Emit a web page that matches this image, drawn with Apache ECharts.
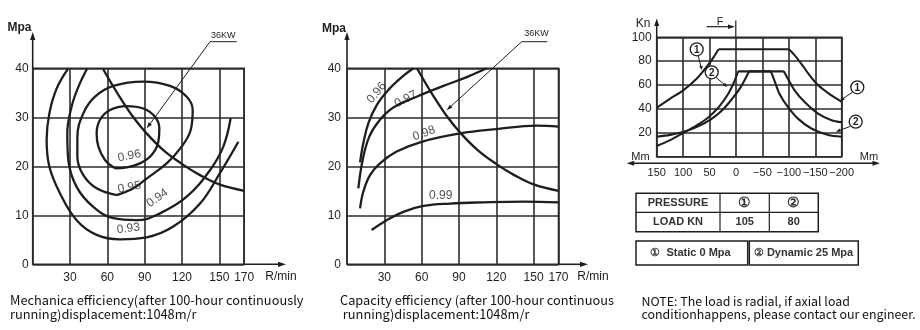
<!DOCTYPE html>
<html><head><meta charset="utf-8">
<script src="https://cdn.jsdelivr.net/npm/echarts@6/dist/echarts.min.js"></script>
<style>html,body{margin:0;padding:0;background:#fff}#c{width:920px;height:330px}</style>
</head><body><div id="c"></div><script>
// ---------- data ----------
// Chart 1: mechanical efficiency contours [R/min, Mpa]
const mech096 = [[66.2,19.6],[58.1,21.3],[52.8,24.0],[51.4,26.7],[54.1,29.5],[62.1,31.5],[75.5,32.3],[88.9,31.8],[98.3,30.1],[101.8,27.7],[101,25.0],[95.6,22.3],[86.2,20.6],[75.5,19.8],[66.2,19.6]];
const mech095 = [[67.5,14.1],[51.4,15.5],[40.7,18.2],[35.9,21.9],[35.9,26.0],[40.7,30.8],[50.1,34.2],[64.8,36.4],[88.9,37.3],[110.4,36.4],[123.8,34.2],[128.6,31.5],[127,27.4],[119.7,24.0],[107.7,20.6],[91.6,17.5],[80.9,15.5],[67.5,14.1]];
const mech094 = [[43.9,40],[36.7,36.2],[31.3,32.2],[27.8,26.7],[28.6,21.3],[35.3,15.8],[48.7,11.7],[64.8,9.4],[83.6,9.0],[102.3,10.4],[123.8,13.8],[142.5,19.2],[153.2,24.0],[159.1,29.8]];
const mech093 = [[28.6,40],[19.3,35.9],[13.4,30.8],[11.2,25.4],[13.4,19.9],[21.9,14.5],[35.3,9.0],[51.4,6.0],[70.2,5.1],[91.6,5.5],[113,7.7],[134.5,12.4],[150.5,18.6],[165.3,25.0]];
const mechLabelText = ['0.96','0.95','0.94','0.93'];
const mechLabelPos = [[77.7,22.1],[77.7,15.7],[100.2,13.5],[76.9,7.3]];
// 36 KW constant power curve (both charts)
const power36 = [[56.2,40],[68.8,34.6],[80.9,30],[91.6,26.7],[105,23.3],[119.8,20.5],[134.5,18.2],[150,16.3],[170,15]];
// Chart 2: capacity efficiency curves
const cap096 = [[10.5,20.8],[13.1,24.7],[17.2,28.8],[23.9,32.5],[33.3,35.6],[44.0,38.2],[53.4,40]];
const cap097 = [[9.1,15.5],[12.6,21.3],[18.0,26.1],[26.5,29.5],[37.3,32.0],[56.0,34.2],[77.5,36.4],[96.2,38.2],[112.3,40]];
const cap098 = [[10.5,11.4],[13.1,14.8],[18.5,18.2],[26.5,20.6],[39.9,23.0],[60.0,25.0],[90.8,26.7],[120.3,27.6],[152.5,28.3],[170,28.1]];
const cap099 = [[19.8,7.0],[31.9,9.0],[45.3,10.7],[61.4,11.9],[82.8,12.4],[109.6,12.65],[141.8,12.8],[170,12.65]];
const capLabelText = ['0.96','0.97','0.98','0.99'];
const capLabelPos = [[23.8,35.0],[47.2,33.7],[61.9,26.7],[75.3,14.1]];
// Chart 3: bearing load curves [Mm, Kn]
const load1 = [[150,41],[125,48.5],[100,55.5],[75,65],[50,78.5],[40,85],[33,90],[-100,90],[-110,85.5],[-125,77],[-137,69.5],[-155,60],[-180,51.5],[-200,46]];
const loadA = [[150,8.9],[124.6,13.9],[99.1,20],[73.7,26.4],[51.4,33.3],[32.3,41.7],[16.4,51.4],[3.7,62.5],[-3.9,71.5],[-90.5,71.5],[-98.1,65.3],[-110.8,55.6],[-129.9,45.8],[-155.3,36.1],[-180.8,30.6],[-200,28.8]];
const loadB = [[150,16.7],[124.6,18.3],[99.1,20.8],[73.7,25],[48.2,31.1],[26,38.9],[7.1,48.6],[-9,58.3],[-25,71.5],[-66,71.5],[-72.6,63.9],[-82.2,52.8],[-98.1,41.7],[-117.2,31.9],[-142.6,23.6],[-174.4,18.1],[-200,16.7]];
const tableHead = ['PRESSURE','\u2460','\u2461'];
const tableLoad = ['LOAD KN','105','80'];

// ---------- chart ----------
const INK = '#1e1e1e', GRIDC = '#2c2c2c';
const FONT = '"Liberation Sans", Arial, sans-serif';
const CJK = '"Noto Sans CJK SC", "Noto Sans", sans-serif';
const chart = echarts.init(document.getElementById('c'));

function curve(data, gi, w, sm) {
  return {type:'line', xAxisIndex:gi, yAxisIndex:gi, data:data, symbol:'none', showSymbol:false,
    smooth: sm == null ? 0.4 : sm, silent:true, z:3,
    lineStyle:{color:INK, width:w||2.3}};
}
function splitPlateau(d) {
  const segs = []; let cur = [d[0]];
  for (let i = 1; i < d.length; i++) {
    if (d[i][1] === d[i-1][1]) { segs.push(cur); segs.push([d[i-1], d[i]]); cur = [d[i]]; }
    else cur.push(d[i]);
  }
  segs.push(cur);
  return segs.filter(s => s.length > 1);
}
function labelSeries(gi, pos, text, rot) {
  return {type:'scatter', xAxisIndex:gi, yAxisIndex:gi, symbolSize:1, silent:true, z:4,
    itemStyle:{color:'rgba(0,0,0,0)'},
    data: pos.map((p,i)=>({name:text[i], value:p, label:{rotate:rot[i]}})),
    label:{show:true, position:'inside', formatter:'{b}', color:INK, fontSize:12, fontFamily:FONT}};
}

const series = [];
[mech093, mech094, mech095, mech096, power36].forEach(d => series.push(curve(d, 0)));
series.push(labelSeries(0, mechLabelPos, mechLabelText, [11, 11, 35, 7]));
[cap096, cap097, cap098, cap099, power36].forEach(d => series.push(curve(d, 1)));
series.push(labelSeries(1, capLabelPos, capLabelText, [50, 27, 20, 0]));
[load1, loadA, loadB].forEach(d => splitPlateau(d).forEach(s => series.push(curve(s, 2, 2.1, 0.3))));

function xAx(gi, o) {
  return Object.assign({gridIndex:gi, type:'value', axisLine:{show:false}, axisTick:{show:false},
    splitLine:{show:true, lineStyle:{color:GRIDC, width:1.6}},
    axisLabel:{color:INK, fontSize:12, fontFamily:FONT, margin:7}}, o);
}
const gridStyle = {show:true, borderColor:GRIDC, borderWidth:1.6, containLabel:false};

// ---------- decorations ----------
const G = [];
function gLine(x1,y1,x2,y2,w){G.push({type:'line',silent:true,z:10,shape:{x1:x1,y1:y1,x2:x2,y2:y2},style:{stroke:INK,lineWidth:w||1.5}});}
function gArrow(tx,ty,fx,fy,len,hw){
  const dx=tx-fx, dy=ty-fy, L=Math.hypot(dx,dy), ux=dx/L, uy=dy/L, bx=tx-ux*len, by=ty-uy*len;
  G.push({type:'polygon',silent:true,z:10,shape:{points:[[tx,ty],[bx-uy*hw,by+ux*hw],[bx+uy*hw,by-ux*hw]]},style:{fill:INK}});
}
function gText(x,y,text,o){
  const st = Object.assign({text:text, fill:INK, fontSize:12, fontFamily:FONT, fontWeight:'normal',
    align:'center', textAlign:'center', verticalAlign:'middle', textVerticalAlign:'middle'}, o||{});
  if (o && o.align) st.textAlign = o.align;
  G.push({type:'text',silent:true,z:11,x:x,y:y,style:st});
}
function gCircle(cx,cy,r,num){
  G.push({type:'circle',silent:true,z:11,shape:{cx:cx,cy:cy,r:r},style:{fill:'#fff',stroke:INK,lineWidth:1.3}});
  gText(cx,cy+0.5,num,{fontSize:10,fontWeight:'bold'});
}
function gRect(x,y,w,h,lw){G.push({type:'rect',silent:true,z:10,shape:{x:x,y:y,width:w,height:h},style:{fill:'none',stroke:INK,lineWidth:lw||1.5}});}

// chart 1 axes extensions
gLine(32.7,68.3,32.7,38,1.6); gArrow(32.7,32,32.7,40,8,2.6);
gLine(244,264.3,279,264.3,1.6); gArrow(286,264.3,276,264.3,8,2.6);
gText(19.5,28,'Mpa',{fontWeight:'bold'});
gText(281,277,'R/min');
gText(223.3,35.5,'36KW',{fontSize:9});
gLine(210,41.7,236.7,41.7,1); gLine(210,41.7,148.5,126,1); gArrow(146.7,128.3,150,123.8,6,2);
// chart 2
gLine(347,68.3,347,38,1.6); gArrow(347,32,347,40,8,2.6);
gLine(558,264.3,580,264.3,1.6); gArrow(588,264.3,578,264.3,8,2.6);
gText(334,29,'Mpa',{fontWeight:'bold'});
gText(593,277,'R/min');
gText(536.5,34,'36KW',{fontSize:9});
gLine(521.7,41.7,547.3,41.7,1); gLine(521.7,41.7,448.5,108.5,1); gArrow(446.7,110.2,450.5,106.7,6,2);
// chart 3
gLine(656.7,37.3,656.7,24,1.5); gArrow(656.7,18.5,656.7,26,7.5,2.5);
gText(643,24,'Kn',{fontSize:12});
gLine(633,163.3,874,163.3,1.5); gArrow(626.7,163.3,634,163.3,7.5,2.5); gArrow(880,163.3,872,163.3,7.5,2.5);
gText(640.5,156.5,'Mm',{fontSize:11}); gText(869,156.5,'Mm',{fontSize:11});
gLine(735.8,20.5,735.8,37.3,1.2);
gLine(706.7,26.7,729,26.7,1.2); gArrow(735,26.7,728,26.7,7,2.3);
gText(720,21.5,'F',{fontSize:11});
gCircle(696.7,49.3,6.5,'1'); gLine(698.3,56,701,67,1); gArrow(701.7,70,701,66,4,1.8);
gCircle(711.7,72.3,6.5,'2'); gLine(716,77.5,725,85,1); gArrow(727.5,87,724,84,4.5,1.8);
gCircle(857.3,87.3,6.5,'1'); gLine(852.3,92.3,843,98.7,1); gArrow(840,100.7,843.5,98.3,4.5,1.8);
gCircle(855.7,121.7,6.5,'2'); gLine(850,126.5,839,130.5,1); gArrow(836,131.7,840,130.2,4.5,1.8);
// table 1
gRect(636,193.3,182.3,38.4,1.5); gLine(636,212.3,818.3,212.3,1.2); gLine(720,193.3,720,231.7,1.2); gLine(769.3,193.3,769.3,231.7,1.2);
const colX = [678,744.7,793.7];
tableHead.forEach((t,i)=>gText(colX[i],203,t,{fontSize:i? 14:11,fontWeight:'bold',fill:'#333'}));
tableLoad.forEach((t,i)=>gText(colX[i],222.3,t,{fontSize:11,fontWeight:'bold',fill:'#333'}));
// table 2
gRect(636,241,111.7,24,1.5); gRect(749.3,241,109,24,1.5);
gText(690.5,253,'\u2460  Static 0 Mpa',{fontSize:11,fontWeight:'bold',fill:'#333'});
gText(803.5,253,'\u2461 Dynamic 25 Mpa',{fontSize:11,fontWeight:'bold',fill:'#333'});
// captions
const cap = {align:'left', fontFamily:CJK, fontSize:12.8, fill:'#111'};
const note = {align:'left', fontFamily:CJK, fontSize:12.4, fill:'#111'};
gText(10,300,'Mechanica efficiency(after 100-hour continuously',cap);
gText(10,313.7,'running)displacement:1048m/r',cap);
gText(340,300,'Capacity efficiency (after 100-hour continuous',cap);
gText(340,313.7,' running)displacement:1048m/r',cap);
gText(641.5,301,'NOTE: The load is radial, if axial load',note);
gText(641.5,314,'conditionhappens, please contact our engineer.',note);

chart.setOption({
  animation:false,
  backgroundColor:'#fff',
  grid:[
    Object.assign({left:32.7, top:68.3, width:211.5, height:196}, gridStyle),
    Object.assign({left:347, top:68.3, width:211.5, height:196}, gridStyle),
    Object.assign({left:656.7, top:37.3, width:185, height:119.4}, gridStyle)
  ],
  xAxis:[
    xAx(0,{min:0,max:170,interval:30, axisLabel:{color:INK,fontSize:12,fontFamily:FONT,margin:7, formatter:v=>v===0?'':String(v)}}),
    xAx(1,{min:0,max:170,interval:30, axisLabel:{color:INK,fontSize:12,fontFamily:FONT,margin:7, formatter:v=>v===0?'':String(v)}}),
    xAx(2,{min:-200,max:150,interval:50,inverse:true, axisLabel:{color:INK,fontSize:11,fontFamily:FONT,margin:11,
      showMinLabel:true, showMaxLabel:true, hideOverlap:false,
      formatter:v=>v<0?'\u2212'+Math.abs(v):String(v)}})
  ],
  yAxis:[
    xAx(0,{min:0,max:40,interval:10, axisLabel:{color:INK,fontSize:12,fontFamily:FONT,margin:4}}),
    xAx(1,{min:0,max:40,interval:10, axisLabel:{color:INK,fontSize:12,fontFamily:FONT,margin:6}}),
    xAx(2,{min:0,max:100,interval:20, axisLabel:{color:INK,fontSize:12,fontFamily:FONT,margin:5, formatter:v=>v===0?'':String(v)}})
  ],
  series:series,
  graphic:{elements:G}
});
</script></body></html>
